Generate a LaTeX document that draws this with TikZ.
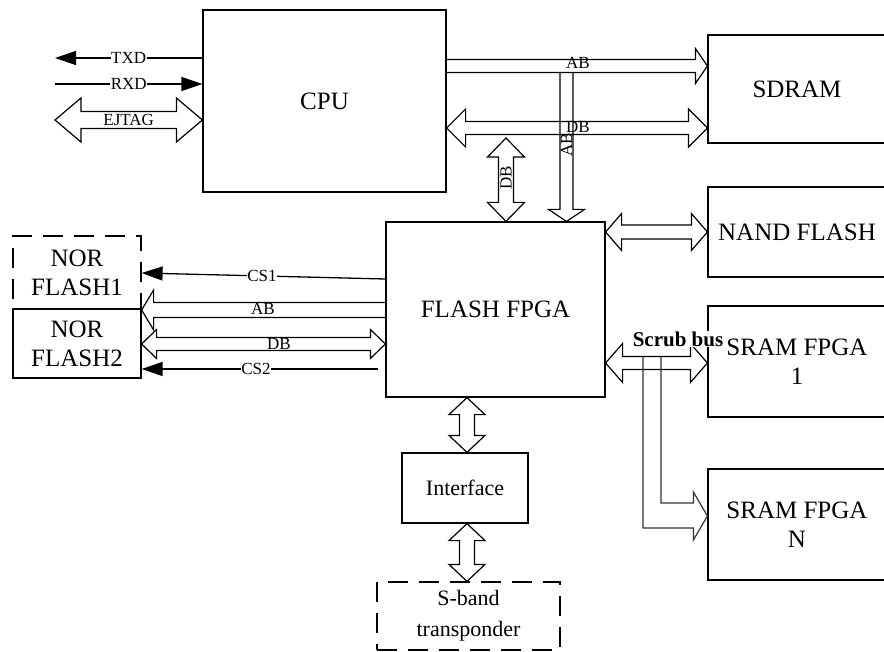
\documentclass[tikz,border=0pt]{standalone}
\usepackage{fontspec}
\setmainfont{Liberation Serif}
\usepackage{tikz}
\usetikzlibrary{arrows.meta,positioning,calc}

% hollow bus arrow, one head: from #1 to #2, half shaft #3, half head #4, head length #5
\newcommand{\busone}[5]{%
  \coordinate (bb) at ($(#2)!#5!(#1)$);
  \draw[bus] ($(#1)!#3!90:(#2)$) -- ($(bb)!#3!-90:(#1)$) -- ($(bb)!#4!-90:(#1)$) -- (#2)
    -- ($(bb)!#4!90:(#1)$) -- ($(bb)!#3!90:(#1)$) -- ($(#1)!#3!-90:(#2)$);}
% hollow bus arrow, two heads
\newcommand{\busboth}[5]{%
  \coordinate (ba) at ($(#1)!#5!(#2)$);
  \coordinate (bb) at ($(#2)!#5!(#1)$);
  \draw[bus] (#1) -- ($(ba)!#4!90:(#2)$) -- ($(ba)!#3!90:(#2)$) -- ($(bb)!#3!-90:(#1)$)
    -- ($(bb)!#4!-90:(#1)$) -- (#2) -- ($(bb)!#4!90:(#1)$) -- ($(bb)!#3!90:(#1)$)
    -- ($(ba)!#3!-90:(#2)$) -- ($(ba)!#4!-90:(#2)$) -- cycle;}

\begin{document}
\begin{tikzpicture}[
    x=1pt, y=-1pt,
    block/.style={draw, line width=1.2pt, inner sep=2pt, align=center, font=\fontsize{25}{29}\selectfont},
    dblock/.style={block, dash pattern=on 20pt off 11pt},
    small/.style={block, font=\fontsize{22}{31}\selectfont},
    sig/.style={line width=1.3pt, -{Triangle[length=21pt,width=14pt]}},
    bus/.style={draw, line width=1.2pt, line join=miter},
    lbl/.style={fill=white, inner sep=0.5pt, font=\fontsize{17}{17}\selectfont}
]
\useasboundingbox (0,0) rectangle (884,652);

% Blocks
\node[block, minimum width=243pt, minimum height=182pt] (cpu) at (324.5,101) {CPU};
\node[block, minimum width=178pt, minimum height=108pt] (sdram) at (797,89) {SDRAM};
\node[block, minimum width=178pt, minimum height=90pt] (nand) at (797,232) {NAND FLASH};
\node[block, minimum width=178pt, minimum height=111pt] (sram1) at (797,361.5) {SRAM FPGA\\1};
\node[block, minimum width=178pt, minimum height=111pt] (sramn) at (797,524.5) {SRAM FPGA\\N};
\node[block, minimum width=219pt, minimum height=175pt] (fpga) at (495.5,309.5) {FLASH FPGA};
\node[dblock, minimum width=128pt, minimum height=73pt] (nor1) at (77,272.5) {NOR\\FLASH1};
\node[block, minimum width=128pt, minimum height=69pt] (nor2) at (77,343.5) {NOR\\FLASH2};
\node[small, minimum width=126pt, minimum height=70pt] (iface) at (465,488) {Interface};
\node[small, dash pattern=on 20pt off 11pt, minimum width=183pt, minimum height=68pt] (sband) at (468.5,616) {S-band\\transponder};

% CPU signals
\coordinate (txd) at (55,58);
\coordinate (rxd) at (55,84);
\coordinate (ejL) at (55,120);
\coordinate (ejR) at (cpu.west |- ejL);
\draw[sig] (cpu.west |- txd) -- (txd);
\draw[sig] (rxd) -- (cpu.west |- rxd);
\busboth{ejL}{ejR}{8.5pt}{22pt}{26pt}
\node[lbl] (ltxd) at ($(cpu.west |- txd)!0.5!(txd)$) {TXD};
\node[lbl] (lrxd) at ($(cpu.west |- rxd)!0.5!(rxd)$) {RXD};
\node[lbl, fill=none] (lej) at ($(ejL)!0.5!(ejR)$) {EJTAG};

% CPU to SDRAM
\coordinate (abS) at (cpu.east |- 0,66);
\coordinate (abE) at (sdram.west |- abS);
\busone{abS}{abE}{6.5pt}{17.5pt}{12pt}
\coordinate (dbS) at (cpu.east |- 0,128);
\coordinate (dbE) at (sdram.west |- dbS);
\busboth{dbS}{dbE}{6.5pt}{19pt}{19pt}
\node[lbl, fill=none] (labt) at (578,63) {AB};
\node[lbl, fill=none] (ldbt) at (578,127) {DB};

% taps down to FLASH FPGA
\coordinate (abT) at (566.5,73);
\coordinate (abB) at (abT |- fpga.north);
\busone{abT}{abB}{6.5pt}{18pt}{12pt}
\coordinate (dbT) at (506,138);
\coordinate (dbB) at (dbT |- fpga.north);
\busboth{dbT}{dbB}{7.5pt}{18.5pt}{19pt}
\node[lbl, fill=none, rotate=90] (labv) at (566.5,145) {AB};
\node[lbl, fill=none, rotate=90] (ldbv) at (506,178) {DB};

% FLASH FPGA to NAND and SRAM FPGAs
\coordinate (nS) at (fpga.east |- 0,232);
\coordinate (nE) at (nand.west |- nS);
\busboth{nS}{nE}{7pt}{18.5pt}{16pt}
\coordinate (sS) at (fpga.east |- 0,363);
\coordinate (sE) at (sram1.west |- sS);
\busboth{sS}{sE}{6.5pt}{19.5pt}{17pt}
\coordinate (tapN) at (sramn.west |- 0,516);
\draw[bus, black!80] (643,357) |- ($(tapN)+(-14,12)$) -- ($(tapN)+(-14,24)$) -- (tapN)
  -- ($(tapN)+(-14,-24)$) -- ($(tapN)+(-14,-13)$) -| (661,357);
\node[lbl, font=\fontsize{21}{21}\selectfont\bfseries] (lscrub) at (678,339) {Scrub bus};

% FLASH FPGA to NOR flashes
\coordinate (cs1S) at (fpga.west |- 0,279);
\coordinate (cs1E) at (nor1.east |- 0,273);
\draw[sig] (cs1S) -- (cs1E);
\coordinate (abLS) at (fpga.west |- 0,310);
\coordinate (abLE) at (nor1.east |- abLS);
\busone{abLS}{abLE}{7.5pt}{20pt}{12pt}
\coordinate (dbLS) at (nor2.east |- 0,344);
\coordinate (dbLE) at (fpga.west |- dbLS);
\busboth{dbLS}{dbLE}{6.5pt}{14.5pt}{15pt}
\coordinate (cs2S) at (378,369);
\coordinate (cs2E) at (nor2.east |- cs2S);
\draw[sig] (cs2S) -- (cs2E);
\node[lbl] (lcs1) at (262,276) {CS1};
\node[lbl, fill=none] (labl) at (263,309) {AB};
\node[lbl, fill=none] (ldbl) at (279,344) {DB};
\node[lbl] (lcs2) at (256,369) {CS2};

% FLASH FPGA to Interface to S-band
\coordinate (ifx) at (467,0);
\coordinate (ifA) at (ifx |- fpga.south);
\coordinate (ifB) at (ifx |- iface.north);
\busboth{ifA}{ifB}{7.5pt}{18pt}{17pt}
\coordinate (sbA) at (ifx |- iface.south);
\coordinate (sbB) at (ifx |- sband.north);
\busboth{sbA}{sbB}{7.5pt}{18pt}{17pt}

\end{tikzpicture}
\end{document}
